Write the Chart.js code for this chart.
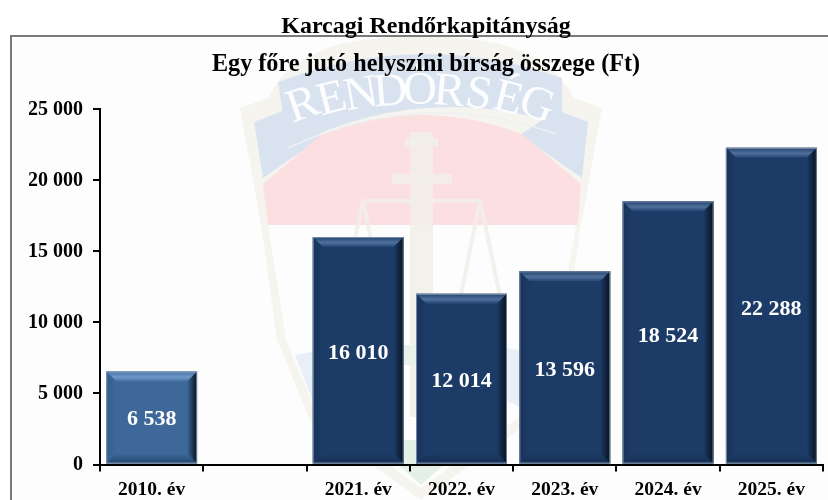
<!DOCTYPE html>
<html><head><meta charset="utf-8">
<style>html,body{margin:0;padding:0;background:#fff}#w{width:828px;height:500px;position:relative}</style>
<script src="https://cdn.jsdelivr.net/npm/chart.js@4"></script>
</head><body><div id="w"><canvas id="c" width="828" height="500"></canvas></div>
<script>
const categories = ["2010. év", "", "2021. év", "2022. év", "2023. év", "2024. év", "2025. év"];
const values = [6538, null, 16010, 12014, 13596, 18524, 22288];
const barColors = ["#3d6899", "#1c3b66", "#1c3b66", "#1c3b66", "#1c3b66", "#1c3b66", "#1c3b66"];
const outerTitle = "Karcagi Rendőrkapitányság";
const innerTitle = "Egy főre jutó helyszíni bírság összege (Ft)";
const fmt = v => String(v).replace(/\B(?=(\d{3})+$)/g, " ");
const SERIF = '"Liberation Serif","Times New Roman",serif';

function poly(ctx, pts, fill) {
  ctx.fillStyle = fill; ctx.beginPath();
  pts.forEach((p, i) => i ? ctx.lineTo(p[0], p[1]) : ctx.moveTo(p[0], p[1]));
  ctx.closePath(); ctx.fill();
}
const backdrop = {
  id: "backdrop",
  beforeDraw(chart) {
    const ctx = chart.ctx;
    ctx.save();
    ctx.fillStyle = "#fdfdfd"; ctx.fillRect(11, 35, 817, 465);
    ctx.filter = "blur(0.7px)";
    // shield
    ctx.fillStyle = "#f6f4ee"; ctx.beginPath();
    ctx.moveTo(240,108); ctx.lineTo(268,98); ctx.quadraticCurveTo(285,60,340,44);
    ctx.quadraticCurveTo(420,28,500,44); ctx.quadraticCurveTo(555,60,574,98);
    ctx.lineTo(602,108); ctx.lineTo(580,230); ctx.lineTo(565,340); ctx.lineTo(532,420);
    ctx.lineTo(421,500); ctx.lineTo(310,420); ctx.lineTo(277,340); ctx.lineTo(262,230);
    ctx.closePath(); ctx.fill();
    // inner white
    poly(ctx, [[268,225],[576,225],[556,340],[526,412],[421,488],[316,412],[286,340]], "#fdfdfd");
    // side blue
    poly(ctx, [[254,122],[285,110],[325,135],[263,178]], "#d9e3f0");
    poly(ctx, [[588,122],[557,110],[520,135],[582,178]], "#d9e3f0");
    // red
    ctx.fillStyle = "#fbdfe1"; ctx.beginPath();
    ctx.moveTo(263,184); ctx.lineTo(322,134); ctx.quadraticCurveTo(420,96,522,134);
    ctx.lineTo(581,184); ctx.lineTo(578,225); ctx.lineTo(268,225); ctx.closePath(); ctx.fill();
    // banner
    ctx.fillStyle = "#d9e3f0"; ctx.beginPath();
    ctx.moveTo(278,82); ctx.quadraticCurveTo(420,28,562,78);
    ctx.lineTo(562,125); ctx.quadraticCurveTo(420,80,288,148); ctx.closePath(); ctx.fill();
    ctx.strokeStyle = "#eef1f3"; ctx.lineWidth = 1.5; ctx.beginPath();
    ctx.moveTo(288,148); ctx.quadraticCurveTo(420,86,556,134); ctx.stroke();
    // banner lettering along the arc
    ctx.fillStyle = "#fcfdfe"; ctx.font = '47px ' + SERIF; ctx.textAlign = "center"; ctx.textBaseline = "middle";
    const letters = "RENDŐRSÉG", cx = 420, cy = 587, r = 495;
    [...letters].forEach((ch, i) => {
      const a = (i - 4) * 0.0595; ctx.save();
      ctx.translate(cx + r * Math.sin(a), cy - r * Math.cos(a)); ctx.rotate(a * 1.4);
      ctx.fillText(ch, 0, 0); ctx.restore();
    });
    // cross and scales
    const beige = "#f1efe9";
    ctx.fillStyle = beige; ctx.globalAlpha = .85;
    ctx.fillRect(410, 132, 23, 285); ctx.fillRect(405, 138, 33, 8); ctx.fillRect(392, 174, 60, 10);
    ctx.fillRect(363, 199, 118, 4);
    ctx.strokeStyle = beige; ctx.lineWidth = 4; ctx.beginPath();
    [[363,340],[363,385],[480,458],[480,503]].forEach(p => { ctx.moveTo(p[0], 200); ctx.lineTo(p[1], 310); });
    ctx.stroke(); ctx.globalAlpha = 1;
    // lower parts
    poly(ctx, [[295,355],[350,345],[345,395],[316,410]], "#e8eff7");
    poly(ctx, [[545,355],[490,345],[495,395],[526,410]], "#e8eff7");
    poly(ctx, [[350,345],[490,345],[480,365],[360,365]], "#e8f2ea");
    poly(ctx, [[370,440],[472,440],[421,485]], "#e4f0e8");
    ctx.filter = "none";
    // frame
    ctx.strokeStyle = "#7a7a7a"; ctx.lineWidth = 2; ctx.beginPath();
    ctx.moveTo(11, 500); ctx.lineTo(11, 36); ctx.lineTo(828, 36); ctx.stroke();
    ctx.restore();
  }
};
const bevel = {
  id: "bevel",
  afterDatasetsDraw(chart) {
    const ctx = chart.ctx;
    chart.getDatasetMeta(0).data.forEach((b, i) => {
      if (values[i] == null) return;
      const L = b.x - b.width / 2, R = b.x + b.width / 2, T = b.y, B = b.base, d = 10;
      const g = i === 0;
      ctx.save();
      let gr = ctx.createLinearGradient(0, T, 0, T + d);
      gr.addColorStop(0, g ? "#4a74a6" : "#23426e"); gr.addColorStop(.55, g ? "#6f97c8" : "#4f709b"); gr.addColorStop(1, g ? "#42709f" : "#234470");
      poly(ctx, [[L,T],[R,T],[R-d,T+d],[L+d,T+d]], gr);
      gr = ctx.createLinearGradient(R - d, 0, R, 0);
      gr.addColorStop(0, g ? "#3d6899" : "#1c3b66"); gr.addColorStop(1, "#07101f");
      poly(ctx, [[R,T],[R,B],[R-d,B-d],[R-d,T+d]], gr);
      gr = ctx.createLinearGradient(L, 0, L + d, 0);
      gr.addColorStop(0, g ? "#335e8e" : "#18335a"); gr.addColorStop(1, g ? "#3d6899" : "#1c3b66");
      poly(ctx, [[L,T],[L,B],[L+d,B-d],[L+d,T+d]], gr);
      gr = ctx.createLinearGradient(0, B - d, 0, B);
      gr.addColorStop(0, g ? "#3d6899" : "#1c3b66"); gr.addColorStop(1, g ? "#244570" : "#152e52");
      poly(ctx, [[L,B],[R,B],[R-d,B-d],[L+d,B-d]], gr);
      ctx.strokeStyle = "rgba(150,168,190,.75)"; ctx.lineWidth = 1;
      ctx.strokeRect(L + .5, T + .5, R - L - 1, B - T - 1);
      ctx.restore();
      ctx.save();
      ctx.fillStyle = "#fff"; ctx.font = 'bold 22px ' + SERIF;
      ctx.textAlign = "center"; ctx.textBaseline = "middle";
      ctx.fillText(fmt(values[i]), b.x, T + (B - T) * 0.508 + 1.5);
      ctx.restore();
    });
  }
};
new Chart(document.getElementById("c"), {
  type: "bar",
  data: { labels: categories, datasets: [{ data: values, backgroundColor: barColors, borderWidth: 0, barPercentage: .88, categoryPercentage: 1 }] },
  plugins: [backdrop, bevel],
  options: {
    responsive: false, animation: false, events: [],
    layout: { padding: { left: 29, right: 5, top: 0, bottom: 0 } },
    plugins: {
      legend: { display: false }, tooltip: { enabled: false },
      title: { display: true, text: outerTitle, color: "#000", font: { family: SERIF, size: 24, weight: "bold", lineHeight: 1.2 }, padding: { top: 12.5, bottom: 9 } },
      subtitle: { display: true, text: innerTitle, color: "#000", font: { family: SERIF, size: 24.2, weight: "bold", lineHeight: 1.2 }, padding: { top: 0, bottom: 30 } }
    },
    scales: {
      x: {
        grid: { drawOnChartArea: false, color: "#000", lineWidth: 2, tickLength: 7, offset: true },
        border: { color: "#000", width: 2 },
        ticks: { color: "#000", font: { family: SERIF, size: 19.5, weight: "bold" }, padding: 7, maxRotation: 0, autoSkip: false },
        afterFit(s) { s.height = 35.5; }
      },
      y: {
        min: 0, max: 25000,
        grid: { drawOnChartArea: false, color: "#000", lineWidth: 2, tickLength: 7 },
        border: { color: "#000", width: 2 },
        ticks: { color: "#000", stepSize: 5000, font: { family: SERIF, size: 20, weight: "bold" }, padding: 10, callback: v => fmt(v) },
        afterFit(s) { s.width = 71; }
      }
    }
  }
});
</script></body></html>
